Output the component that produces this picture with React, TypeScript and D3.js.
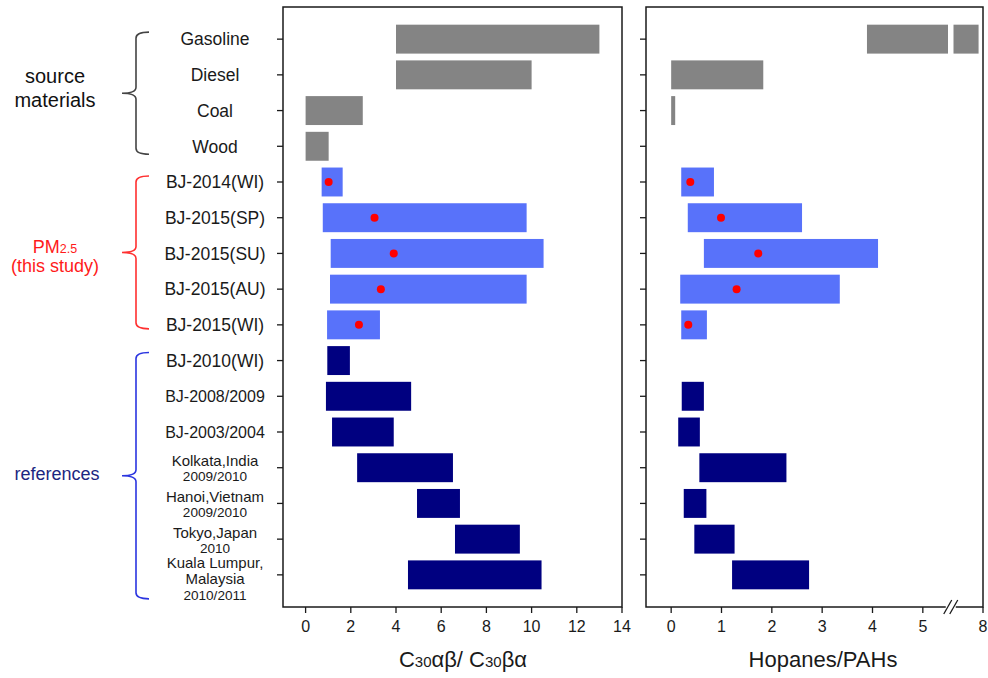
import { useEffect, useRef } from "react";
import * as d3 from "d3";

// categories top -> bottom
const categories = [
  "Gasoline", "Diesel", "Coal", "Wood",
  "BJ-2014(WI)", "BJ-2015(SP)", "BJ-2015(SU)", "BJ-2015(AU)", "BJ-2015(WI)",
  "BJ-2010(WI)", "BJ-2008/2009", "BJ-2003/2004",
  "Kolkata,India 2009/2010", "Hanoi,Vietnam 2009/2010", "Tokyo,Japan 2010",
  "Kuala Lumpur, Malaysia 2010/2011",
];
const labelLines = [
  ["Gasoline"], ["Diesel"], ["Coal"], ["Wood"],
  ["BJ-2014(WI)"], ["BJ-2015(SP)"], ["BJ-2015(SU)"], ["BJ-2015(AU)"], ["BJ-2015(WI)"],
  ["BJ-2010(WI)"], ["BJ-2008/2009"], ["BJ-2003/2004"],
  ["Kolkata,India", "2009/2010"], ["Hanoi,Vietnam", "2009/2010"], ["Tokyo,Japan", "2010"],
  ["Kuala Lumpur,", "Malaysia", "2010/2011"],
];
const groupOf = [
  "source", "source", "source", "source",
  "pm", "pm", "pm", "pm", "pm",
  "ref", "ref", "ref", "ref", "ref", "ref", "ref",
];

// C30ab / C30ba ranges
const ratioLo = [4.0, 4.0, 0, 0, 0.71, 0.76, 1.11, 1.08, 0.95, 0.96, 0.9, 1.17, 2.28, 4.93, 6.61, 4.53];
const ratioHi = [13.0, 10.0, 2.53, 1.02, 1.64, 9.78, 10.53, 9.78, 3.29, 1.96, 4.67, 3.9, 6.52, 6.83, 9.48, 10.44];
const ratioMean = [null, null, null, null, 1.02, 3.05, 3.9, 3.33, 2.36, null, null, null, null, null, null, null];

// Hopanes / PAHs ranges
const hopLo = [3.89, 0, 0, null, 0.2, 0.33, 0.65, 0.18, 0.2, null, 0.21, 0.14, 0.56, 0.25, 0.46, 1.21];
const hopHi = [7.85, 1.83, 0.08, null, 0.85, 2.6, 4.11, 3.35, 0.71, null, 0.65, 0.57, 2.29, 0.7, 1.26, 2.74];
const hopMean = [null, null, null, null, 0.38, 0.99, 1.73, 1.3, 0.34, null, null, null, null, null, null, null];

const ratioTicks = [0, 2, 4, 6, 8, 10, 12, 14];
const hopTicks = [0, 1, 2, 3, 4, 5, 8];

const barColor: Record<string, string> = { source: "#848484", pm: "#5872fa", ref: "#000080" };

const FONT = "'Liberation Sans', Arial, sans-serif";

export default function App() {
  const ref = useRef<SVGSVGElement>(null);

  useEffect(() => {
    if (!ref.current) return;
    const svg = d3.select(ref.current);
    svg.selectAll("*").remove();

    const top = 7, bottom = 607;
    const y = d3.scalePoint<string>().domain(categories).range([top, bottom]).padding(0.9);
    const bh = y.step() * 0.81;

    // left panel
    const xL = d3.scaleLinear().domain([-1, 14]).range([283, 622]);
    // right panel, broken axis between 5.5 and 7
    const brkLo = 5.5, brkHi = 7;
    const xR = d3.scaleLinear().domain([-0.5, brkLo, brkHi, 8]).range([646, 948, 953.5, 983]);

    const rows = categories.map((c, i) => ({
      c, i, g: groupOf[i],
      rLo: ratioLo[i], rHi: ratioHi[i], rM: ratioMean[i],
      hLo: hopLo[i], hHi: hopHi[i], hM: hopMean[i],
    }));

    const drawFrame = (x: d3.ScaleLinear<number, number>, ticks: number[]) => {
      const [x0, x1] = [x.range()[0], x.range()[x.range().length - 1]];
      const g = svg.append("g");
      g.append("rect")
        .attr("x", x0).attr("y", top)
        .attr("width", x1 - x0).attr("height", bottom - top)
        .attr("fill", "none").attr("stroke", "#1a1a1a").attr("stroke-width", 1.5);
      // y ticks
      g.selectAll("line.yt").data(categories).join("line")
        .attr("x1", x0 - 6).attr("x2", x0)
        .attr("y1", (d) => y(d)!).attr("y2", (d) => y(d)!)
        .attr("stroke", "#1a1a1a").attr("stroke-width", 1.3);
      // x ticks
      g.selectAll("line.xt").data(ticks).join("line")
        .attr("x1", (d) => x(d)).attr("x2", (d) => x(d))
        .attr("y1", bottom).attr("y2", bottom + 6)
        .attr("stroke", "#1a1a1a").attr("stroke-width", 1.3);
      g.selectAll("text").data(ticks).join("text")
        .attr("x", (d) => x(d)).attr("y", bottom + 25)
        .attr("text-anchor", "middle")
        .attr("font-family", FONT).attr("font-size", 16).attr("fill", "#1a1a1a")
        .text((d) => d);
      return g;
    };

    drawFrame(xL, ratioTicks);
    drawFrame(xR, hopTicks);

    // axis break marks on right panel
    const bx = (xR(brkLo) + xR(brkHi)) / 2;
    svg.append("rect")
      .attr("x", bx - 5).attr("y", bottom - 2).attr("width", 10).attr("height", 4)
      .attr("fill", "white");
    [-3, 3].forEach((o) => {
      svg.append("line")
        .attr("x1", bx + o - 4).attr("y1", bottom + 7)
        .attr("x2", bx + o + 4).attr("y2", bottom - 7)
        .attr("stroke", "#1a1a1a").attr("stroke-width", 1.3);
    });

    // bars: left
    const gL = svg.append("g");
    gL.selectAll("rect").data(rows).join("rect")
      .attr("x", (d) => xL(d.rLo))
      .attr("width", (d) => xL(d.rHi) - xL(d.rLo))
      .attr("y", (d) => y(d.c)! - bh / 2)
      .attr("height", bh)
      .attr("fill", (d) => barColor[d.g]);
    gL.selectAll("circle").data(rows.filter((d) => d.rM != null)).join("circle")
      .attr("cx", (d) => xL(d.rM as number))
      .attr("cy", (d) => y(d.c)!)
      .attr("r", 4)
      .attr("fill", "#ff0000");

    // bars: right (split across the break)
    const segs: { c: string; g: string; a: number; b: number }[] = [];
    rows.forEach((d) => {
      if (d.hLo == null || d.hHi == null) return;
      if (d.hLo < brkLo) segs.push({ c: d.c, g: d.g, a: d.hLo, b: Math.min(d.hHi, brkLo) });
      if (d.hHi > brkHi) segs.push({ c: d.c, g: d.g, a: Math.max(d.hLo, brkHi), b: d.hHi });
    });
    const gR = svg.append("g");
    gR.selectAll("rect").data(segs).join("rect")
      .attr("x", (d) => xR(d.a))
      .attr("width", (d) => Math.max(xR(d.b) - xR(d.a), 0))
      .attr("y", (d) => y(d.c)! - bh / 2)
      .attr("height", bh)
      .attr("fill", (d) => barColor[d.g]);
    gR.selectAll("circle").data(rows.filter((d) => d.hM != null)).join("circle")
      .attr("cx", (d) => xR(d.hM as number))
      .attr("cy", (d) => y(d.c)!)
      .attr("r", 4)
      .attr("fill", "#ff0000");

    // category labels
    const lab = svg.append("g")
      .attr("font-family", FONT).attr("fill", "#1a1a1a").attr("text-anchor", "middle");
    rows.forEach((d) => {
      const lines = labelLines[d.i];
      const cy = y(d.c)!;
      if (lines.length === 1) {
        const small = d.c.includes("/");
        lab.append("text")
          .attr("x", 215).attr("y", cy).attr("dy", "0.36em")
          .attr("font-size", small ? 16 : 17.5)
          .text(lines[0]);
      } else {
        const offs = lines.length === 2 ? [-7, 8.5] : [-12.5, 3.8, 20.3];
        lines.forEach((t, k) => {
          lab.append("text")
            .attr("x", 215).attr("y", cy + offs[k]).attr("dy", "0.36em")
            .attr("font-size", k === lines.length - 1 ? 13.6 : 15)
            .text(t);
        });
      }
    });

    // group braces
    const braces = [
      { g: "source", color: "#444444", first: "Gasoline", last: "Wood", padTop: 7, padBot: 8 },
      { g: "pm", color: "#ff3030", first: "BJ-2014(WI)", last: "BJ-2015(WI)", padTop: 6, padBot: 4 },
      { g: "ref", color: "#2b35e0", first: "BJ-2010(WI)", last: categories[15], padTop: 8, padBot: 24 },
    ];
    const bxv = 136, bxa = 149, bxt = 122, r = 6;
    const tips: Record<string, number> = {};
    braces.forEach((b) => {
      const y0 = y(b.first)! - b.padTop;
      const y1 = y(b.last)! + b.padBot;
      const ym = (y0 + y1) / 2;
      tips[b.g] = ym;
      const p = d3.path();
      p.moveTo(bxa, y0);
      p.quadraticCurveTo(bxv, y0, bxv, y0 + r);
      p.lineTo(bxv, ym - r);
      p.quadraticCurveTo(bxv, ym, bxt, ym);
      p.moveTo(bxt, ym);
      p.quadraticCurveTo(bxv, ym, bxv, ym + r);
      p.lineTo(bxv, y1 - r);
      p.quadraticCurveTo(bxv, y1, bxa, y1);
      svg.append("path")
        .attr("d", p.toString())
        .attr("fill", "none").attr("stroke", b.color).attr("stroke-width", 1.6);
    });

    // group labels
    const gl = svg.append("g").attr("font-family", FONT).attr("text-anchor", "middle");
    gl.append("text").attr("x", 55).attr("y", tips.source - 10)
      .attr("font-size", 20).attr("fill", "#111").text("source");
    gl.append("text").attr("x", 55).attr("y", tips.source + 14)
      .attr("font-size", 20).attr("fill", "#111").text("materials");
    const pm = gl.append("text").attr("x", 55).attr("y", tips.pm + 1)
      .attr("font-size", 18).attr("fill", "#ff1a1a");
    pm.append("tspan").text("PM");
    pm.append("tspan").attr("font-size", 12.5).text("2.5");
    gl.append("text").attr("x", 55).attr("y", tips.pm + 20)
      .attr("font-size", 18).attr("fill", "#ff1a1a").text("(this study)");
    gl.append("text").attr("x", 57).attr("y", tips.ref + 4)
      .attr("font-size", 18).attr("fill", "#1c2680").text("references");

    // axis titles
    const tL = svg.append("text")
      .attr("x", 463).attr("y", 667)
      .attr("text-anchor", "middle")
      .attr("font-family", FONT).attr("font-size", 22).attr("fill", "#1a1a1a");
    tL.append("tspan").text("C");
    tL.append("tspan").attr("font-size", 15).text("30");
    tL.append("tspan").text("αβ/ C");
    tL.append("tspan").attr("font-size", 15).text("30");
    tL.append("tspan").text("βα");

    svg.append("text")
      .attr("x", 823).attr("y", 667)
      .attr("text-anchor", "middle")
      .attr("font-family", FONT).attr("font-size", 22).attr("fill", "#1a1a1a")
      .text("Hopanes/PAHs");
  }, []);

  return (
    <svg
      ref={ref}
      width={988}
      height={678}
      viewBox="0 0 988 678"
      style={{ position: "absolute", left: 0, top: 0, background: "white" }}
    />
  );
}
